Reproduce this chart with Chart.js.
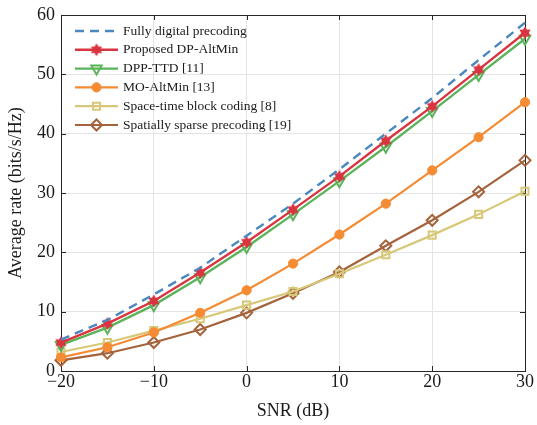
<!DOCTYPE html>
<html>
<head>
<meta charset="utf-8">
<script src="https://cdn.jsdelivr.net/npm/chart.js@4/dist/chart.umd.min.js"></script>
<style>
  html, body { margin: 0; padding: 0; background: #fff; }
  #wrap { width: 537px; height: 425px; }
</style>
</head>
<body>
<div id="wrap"><canvas id="rateChart" width="537" height="425"></canvas></div>
<script>
const snrDb = [-20, -15, -10, -5, 0, 5, 10, 15, 20, 25, 30];
const xTicks = [-20, -10, 0, 10, 20, 30];
const yTicks = [0, 10, 20, 30, 40, 50, 60];

const fullyDigital = [5.3, 8.6, 12.9, 17.4, 22.8, 28.2, 34.0, 40.0, 46.0, 52.4, 58.7];
const proposedAltMin = [4.8, 8.0, 11.8, 16.6, 21.7, 27.2, 32.8, 38.8, 44.6, 50.8, 57.0];
const dppTtd = [4.4, 7.3, 11.1, 15.8, 20.9, 26.4, 32.0, 37.8, 43.8, 49.9, 56.0];
const moAltMin = [2.3, 4.0, 6.5, 9.8, 13.6, 18.1, 23.0, 28.2, 33.8, 39.4, 45.3];
const spaceTime = [3.2, 4.8, 6.8, 8.8, 11.1, 13.4, 16.4, 19.6, 22.9, 26.4, 30.3];
const sparsePrecoding = [1.8, 3.0, 4.8, 7.0, 9.8, 13.1, 16.7, 21.1, 25.4, 30.2, 35.5];

const seriesLabels = [
  "Fully digital precoding",
  "Proposed DP-AltMin",
  "DPP-TTD [11]",
  "MO-AltMin [13]",
  "Space-time block coding [8]",
  "Spatially sparse precoding [19]",
];

const SERIF = "'Liberation Serif', 'Times New Roman', serif";
const AXIS_COLOR = "#262626";

// filled six-point star, like matlab's hexagram marker
function makeHexagram(color) {
  const c = document.createElement("canvas");
  c.width = 14;
  c.height = 14;
  const g = c.getContext("2d");
  g.fillStyle = color;
  g.beginPath();
  for (let i = 0; i < 12; i++) {
    const r = i % 2 === 0 ? 6.5 : 3.8;
    const a = -Math.PI / 2 + (i * Math.PI) / 6;
    const px = 7 + r * Math.cos(a);
    const py = 7 + r * Math.sin(a);
    if (i === 0) g.moveTo(px, py);
    else g.lineTo(px, py);
  }
  g.closePath();
  g.fill();
  return c;
}

function toPoints(values) {
  return values.map((v, i) => ({ x: snrDb[i], y: v }));
}

const RED = "#da3440";
const starImg = makeHexagram(RED);

const datasets = [
  {
    label: seriesLabels[0], data: toPoints(fullyDigital),
    borderColor: "#4a88bf", borderWidth: 2.4, borderDash: [9, 6],
    pointRadius: 0, pointStyle: false,
  },
  {
    label: seriesLabels[1], data: toPoints(proposedAltMin),
    borderColor: RED, borderWidth: 2.4,
    pointStyle: starImg, pointRadius: 6,
  },
  {
    label: seriesLabels[2], data: toPoints(dppTtd),
    borderColor: "#5bb35a", borderWidth: 2.4,
    pointStyle: "triangle", pointRotation: 180, pointRadius: 6,
    pointBorderWidth: 2, pointBackgroundColor: "rgba(255,255,255,0)",
  },
  {
    label: seriesLabels[3], data: toPoints(moAltMin),
    borderColor: "#f58b33", borderWidth: 2.2,
    pointStyle: "circle", pointRadius: 4.6, pointBorderWidth: 1,
    pointBackgroundColor: "#f58b33",
  },
  {
    label: seriesLabels[4], data: toPoints(spaceTime),
    borderColor: "#d7c879", borderWidth: 2.2,
    pointStyle: "rect", pointRadius: 5,
    pointBorderWidth: 2, pointBackgroundColor: "rgba(255,255,255,0)",
  },
  {
    label: seriesLabels[5], data: toPoints(sparsePrecoding),
    borderColor: "#a5633b", borderWidth: 2.2,
    pointStyle: "rectRot", pointRadius: 5.5,
    pointBorderWidth: 2, pointBackgroundColor: "rgba(255,255,255,0)",
  },
];
datasets.forEach((d) => {
  d.fill = false;
  d.tension = 0;
  d.clip = false;
  d.pointBorderColor = d.borderColor;
  if (!d.pointBackgroundColor) d.pointBackgroundColor = d.borderColor;
});

// box around the plot with inward ticks on all four sides
const boxPlugin = {
  id: "box",
  beforeDatasetsDraw(chart) {
    const { ctx, chartArea: a, scales } = chart;
    ctx.save();
    ctx.strokeStyle = AXIS_COLOR;
    ctx.lineWidth = 1;
    ctx.strokeRect(a.left + 0.5, a.top + 0.5, a.right - a.left, a.bottom - a.top);
    ctx.beginPath();
    xTicks.forEach((t) => {
      const px = Math.round(scales.x.getPixelForValue(t)) + 0.5;
      ctx.moveTo(px, a.bottom); ctx.lineTo(px, a.bottom - 5);
      ctx.moveTo(px, a.top); ctx.lineTo(px, a.top + 5);
    });
    yTicks.forEach((t) => {
      const py = Math.round(scales.y.getPixelForValue(t)) + 0.5;
      ctx.moveTo(a.left, py); ctx.lineTo(a.left + 5, py);
      ctx.moveTo(a.right, py); ctx.lineTo(a.right - 5, py);
    });
    ctx.stroke();
    ctx.restore();
  },
};

// legend drawn inside the top-left of the plot, no frame
const legendPlugin = {
  id: "insideLegend",
  afterDraw(chart) {
    const { ctx } = chart;
    const x0 = 75, x1 = 118, textX = 123;
    ctx.save();
    ctx.font = "13.5px " + SERIF;
    ctx.textBaseline = "middle";
    ctx.textAlign = "left";
    chart.data.datasets.forEach((d, i) => {
      const y = 31 + i * 18.8;
      ctx.strokeStyle = d.borderColor;
      ctx.lineWidth = d.borderWidth;
      ctx.setLineDash(d.borderDash || []);
      ctx.beginPath();
      ctx.moveTo(x0, y);
      ctx.lineTo(x1, y);
      ctx.stroke();
      ctx.setLineDash([]);
      if (d.pointStyle) {
        ctx.fillStyle = d.pointBackgroundColor;
        ctx.strokeStyle = d.borderColor;
        ctx.lineWidth = d.pointBorderWidth || 1;
        Chart.helpers.drawPoint(ctx, {
          pointStyle: d.pointStyle,
          rotation: d.pointRotation || 0,
          radius: d.pointRadius,
          borderWidth: d.pointBorderWidth || 1,
        }, (x0 + x1) / 2, y);
      }
      ctx.fillStyle = "#1a1a1a";
      ctx.fillText(d.label, textX, y);
    });
    ctx.restore();
  },
};

new Chart(document.getElementById("rateChart"), {
  type: "line",
  data: { datasets },
  plugins: [boxPlugin, legendPlugin],
  options: {
    responsive: false,
    animation: false,
    events: [],
    layout: { padding: { left: 0, right: 12, top: 9, bottom: 0 } },
    plugins: { legend: { display: false }, tooltip: { enabled: false } },
    scales: {
      x: {
        type: "linear",
        min: -20, max: 30,
        afterFit(scale) { scale.height = 54; },
        afterBuildTicks(scale) { scale.ticks = xTicks.map((v) => ({ value: v })); },
        grid: { color: "#e4e4e4", drawTicks: false },
        border: { display: false },
        ticks: {
          padding: 2,
          color: "#1a1a1a",
          font: { family: SERIF, size: 18, lineHeight: 1 },
          callback: (v) => String(v).replace("-", "\u2212"),
          maxRotation: 0,
        },
        title: {
          display: true, text: "SNR (dB)", color: "#1a1a1a",
          font: { family: SERIF, size: 18 },
          padding: { top: 0, bottom: 3 },
        },
      },
      y: {
        min: 0, max: 60,
        afterFit(scale) { scale.width = 61; },
        afterBuildTicks(scale) { scale.ticks = yTicks.map((v) => ({ value: v })); },
        grid: { color: "#e4e4e4", drawTicks: false },
        border: { display: false },
        ticks: {
          padding: 6,
          color: "#1a1a1a",
          font: { family: SERIF, size: 18, lineHeight: 1 },
        },
        title: {
          display: true, text: "Average rate (bits/s/Hz)", color: "#1a1a1a",
          font: { family: SERIF, size: 18 },
          padding: { top: 5, bottom: 0 },
        },
      },
    },
  },
});
</script>
</body>
</html>
